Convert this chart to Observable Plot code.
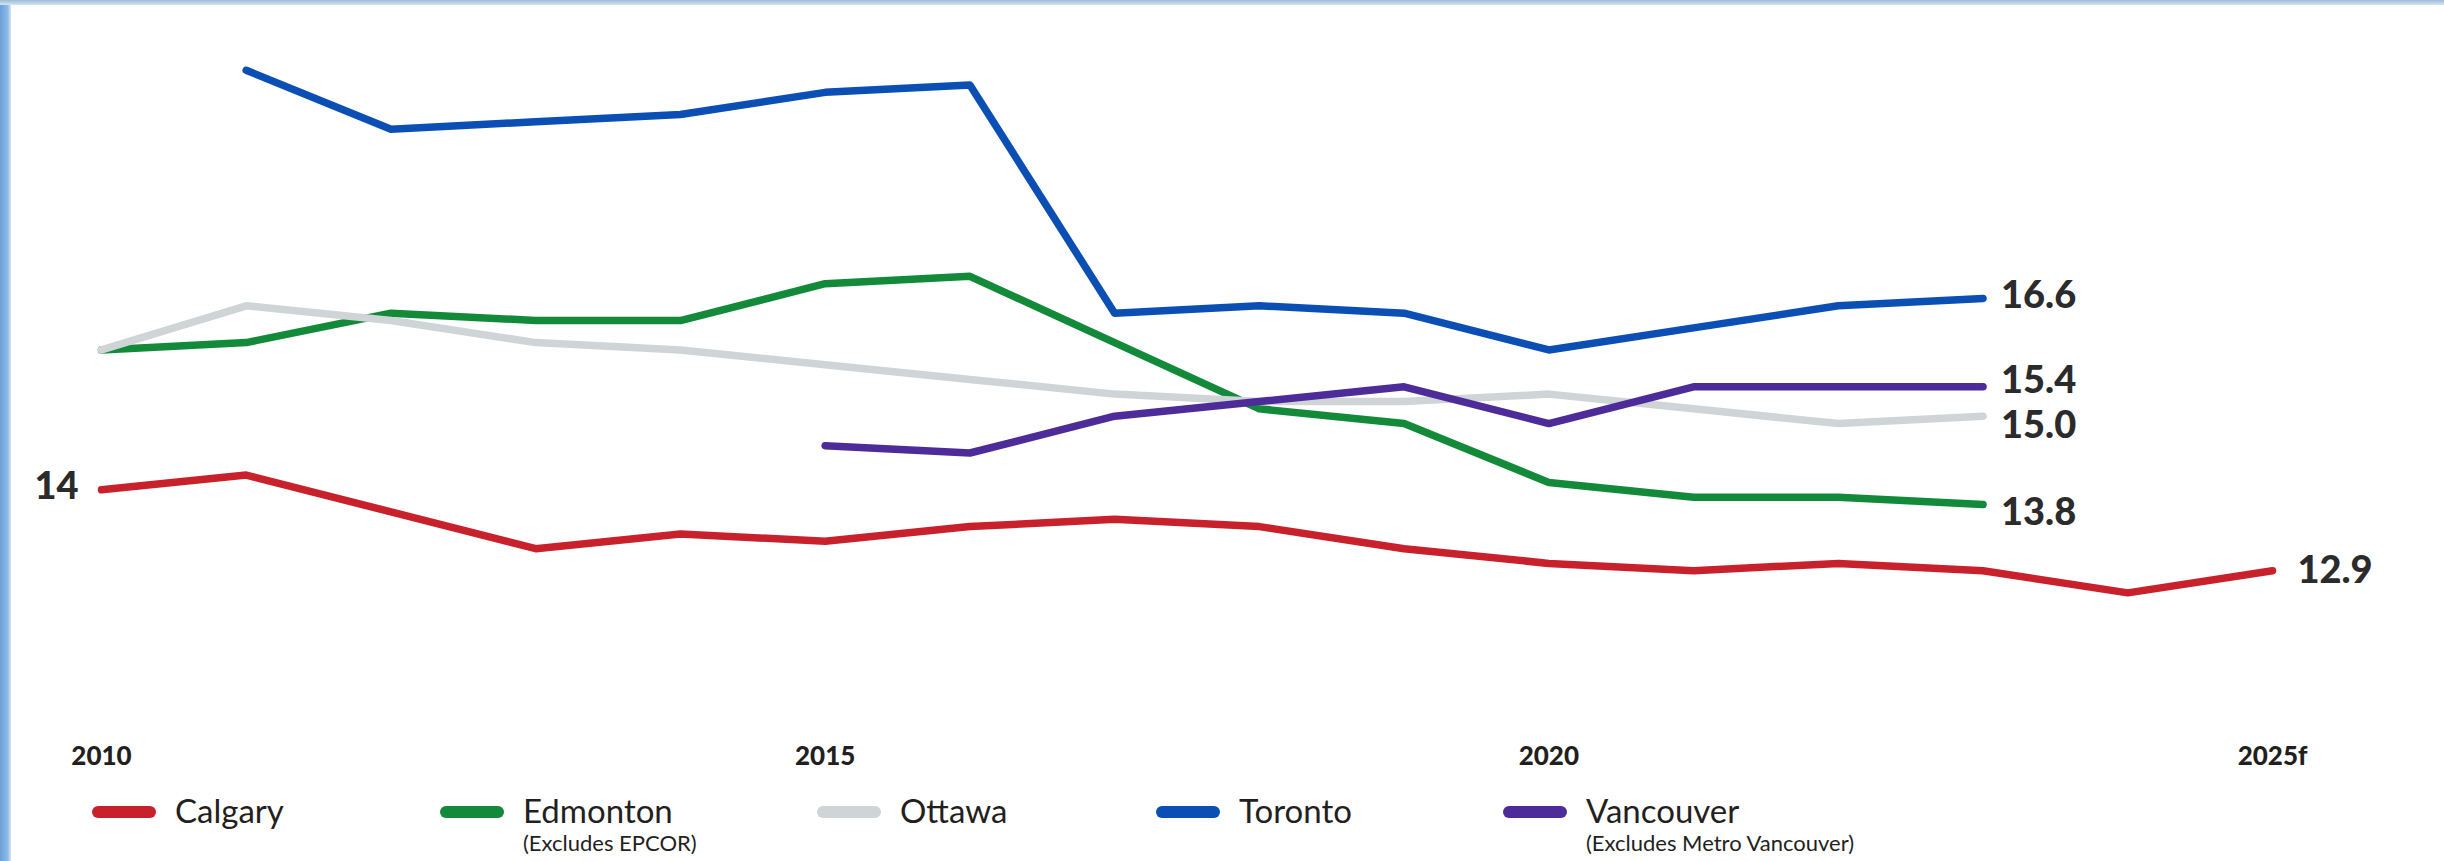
<!DOCTYPE html>
<html>
<head>
<meta charset="utf-8">
<script src="https://cdn.jsdelivr.net/npm/d3@7"></script>
<script src="https://cdn.jsdelivr.net/npm/@observablehq/plot@0.6"></script>
<style>
  html, body { margin: 0; padding: 0; background: #ffffff; }
  body { width: 2444px; height: 861px; position: relative; overflow: hidden; font-family: Lato, "Open Sans", sans-serif; }
  #edge-left { position: absolute; left: 0; top: 0; width: 11px; height: 861px;
    background: linear-gradient(90deg, #6a9fd8 0%, #8dbbe8 70%, #dbe9f6 100%); }
  #edge-top { position: absolute; left: 0; top: 0; width: 2444px; height: 5px;
    background: linear-gradient(180deg, #9dbbd9 0%, #d7e5f1 100%); }
  #chart { position: absolute; left: 0; top: 0; }
  #legend { position: absolute; left: 0; top: 790px; width: 2444px; height: 71px; }
  .item { position: absolute; top: 0; }
  .sw { position: absolute; left: 0; top: 16px; width: 64px; height: 12px; border-radius: 6px; }
  .lab { position: absolute; left: 83px; top: 0px; font-size: 33px; line-height: 40px; color: #231f20; white-space: nowrap; }
  .sub { position: absolute; left: 83px; top: 41px; font-size: 22px; line-height: 24px; color: #231f20; white-space: nowrap; }
</style>
</head>
<body>
<div id="edge-left"></div>
<div id="edge-top"></div>
<div id="chart"></div>
<div id="legend"></div>
<script>
// ---- data ----
const cities = ["Calgary", "Edmonton", "Ottawa", "Toronto", "Vancouver"];
const notes = ["", "(Excludes EPCOR)", "", "", "(Excludes Metro Vancouver)"];
const colors = ["#c9212b", "#138a3a", "#cfd4d7", "#0b4eb4", "#4d2b98"];
const tickYears = [2010, 2015, 2020, 2025];
const tickLabels = ["2010", "2015", "2020", "2025f"];

const calgaryStart = 2010;
const calgary = [14.0, 14.2, 13.7, 13.2, 13.4, 13.3, 13.5, 13.6, 13.5, 13.2, 13.0, 12.9, 13.0, 12.9, 12.6, 12.9];
const edmontonStart = 2010;
const edmonton = [15.9, 16.0, 16.4, 16.3, 16.3, 16.8, 16.9, 16.0, 15.1, 14.9, 14.1, 13.9, 13.9, 13.8];
const ottawaStart = 2010;
const ottawa = [15.9, 16.5, 16.3, 16.0, 15.9, 15.7, 15.5, 15.3, 15.2, 15.2, 15.3, 15.1, 14.9, 15.0];
const torontoStart = 2011;
const toronto = [19.7, 18.9, 19.0, 19.1, 19.4, 19.5, 16.4, 16.5, 16.4, 15.9, 16.2, 16.5, 16.6];
const vancouverStart = 2015;
const vancouver = [14.6, 14.5, 15.0, 15.2, 15.4, 14.9, 15.4, 15.4, 15.4];

// ---- table built from the arrays ----
const seriesList = [
  [cities[0], calgaryStart, calgary],
  [cities[1], edmontonStart, edmonton],
  [cities[2], ottawaStart, ottawa],
  [cities[3], torontoStart, toronto],
  [cities[4], vancouverStart, vancouver]
];
const rows = [];
for (const [city, start, vals] of seriesList) {
  vals.forEach((v, i) => rows.push({city, year: start + i, value: v}));
}
const lastOf = (city) => rows.filter(r => r.city === city).slice(-1)[0];
const firstOf = (city) => rows.filter(r => r.city === city)[0];
const fmt = d3.format(".1f");

// label offsets (style only)
const labelDy = {Calgary: 0, Edmonton: 8, Ottawa: 10, Toronto: -3, Vancouver: -6};
const labelDx = {Calgary: 25, Edmonton: 18, Ottawa: 18, Toronto: 18, Vancouver: 18};

const endLabelMarks = cities.map(c => Plot.text([lastOf(c)], {
  x: "year", y: "value", text: d => fmt(d.value),
  textAnchor: "start", dx: labelDx[c], dy: labelDy[c],
  fontSize: 38, fontWeight: 900, fill: "#2b2b2b"
}));

const chart = Plot.plot({
  width: 2444,
  height: 790,
  marginLeft: 101,
  marginRight: 172,
  marginTop: 47.7,
  marginBottom: 153.5,
  style: {fontFamily: "Lato, 'Open Sans', sans-serif", background: "transparent", color: "#231f20"},
  x: {domain: [2010, 2025], label: null},
  y: {domain: [12, 20], axis: null},
  color: {domain: cities, range: colors},
  marks: [
    Plot.lineY(rows, {x: "year", y: "value", z: "city", stroke: "city",
      strokeWidth: 7.5, strokeLinecap: "round", strokeLinejoin: "round"}),
    Plot.axisX({ticks: tickYears, tickFormat: (d) => tickLabels[tickYears.indexOf(d)],
      tickSize: 0, tickPadding: 110, fontSize: 26, fontWeight: 900, fill: "#231f20", label: null}),
    Plot.text([firstOf("Calgary")], {x: "year", y: "value", text: d => d3.format("d")(d.value),
      textAnchor: "end", dx: -23, dy: -3, fontSize: 38, fontWeight: 900, fill: "#2b2b2b"}),
    ...endLabelMarks
  ]
});
document.getElementById("chart").appendChild(chart);

// ---- legend ----
const legendLeft = [92, 440, 817, 1156, 1503];
const legend = document.getElementById("legend");
cities.forEach((c, i) => {
  const it = document.createElement("div");
  it.className = "item";
  it.style.left = legendLeft[i] + "px";
  const sw = document.createElement("div");
  sw.className = "sw"; sw.style.background = colors[i];
  const lab = document.createElement("div");
  lab.className = "lab"; lab.textContent = c;
  it.appendChild(sw); it.appendChild(lab);
  if (notes[i]) {
    const sub = document.createElement("div");
    sub.className = "sub"; sub.textContent = notes[i];
    it.appendChild(sub);
  }
  legend.appendChild(it);
});
</script>
</body>
</html>
